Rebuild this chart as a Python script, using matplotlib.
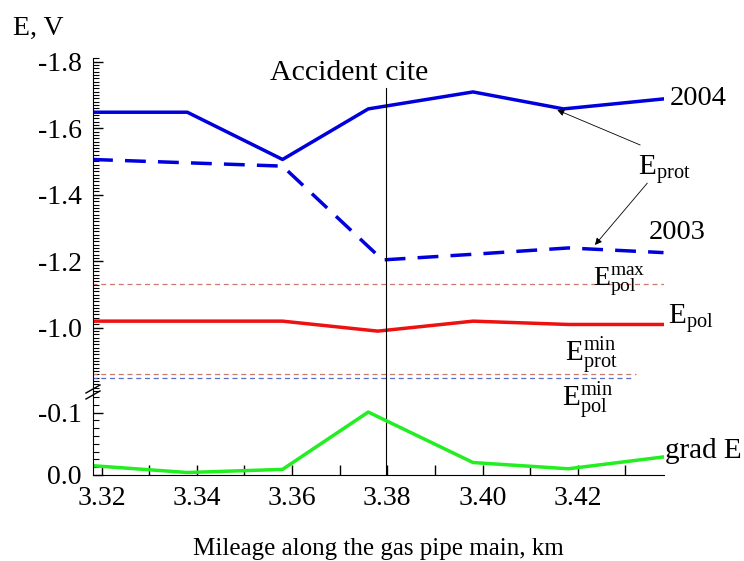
import numpy as np
import matplotlib
matplotlib.use("Agg")
import matplotlib.pyplot as plt
from matplotlib.ticker import MultipleLocator, FormatStrFormatter
from matplotlib.lines import Line2D

plt.rcParams['font.family'] = ['Liberation Serif', 'DejaVu Serif']
plt.rcParams['mathtext.fontset'] = 'custom'
plt.rcParams['mathtext.rm'] = 'Liberation Serif'
plt.rcParams['mathtext.it'] = 'Liberation Serif:italic'
plt.rcParams['axes.unicode_minus'] = False

# data
x_2004 = [3.318, 3.338, 3.358, 3.376, 3.398, 3.417, 3.438]
e_2004 = [-1.648, -1.648, -1.506, -1.658, -1.709, -1.658, -1.688]
x_2003 = [3.318, 3.338, 3.358, 3.379, 3.398, 3.418, 3.438]
e_2003 = [-1.506, -1.496, -1.486, -1.204, -1.221, -1.240, -1.226]
x_pol = [3.318, 3.338, 3.358, 3.378, 3.398, 3.418, 3.438]
e_pol = [-1.02, -1.02, -1.02, -0.99, -1.02, -1.01, -1.01]
x_grad = [3.318, 3.338, 3.358, 3.376, 3.398, 3.418, 3.438]
grad_e = [-0.015, -0.004, -0.009, -0.101, -0.020, -0.010, -0.029]

e_pol_max = -1.133
e_prot_min = -0.860
e_pol_min = -0.848
x_accident = 3.3797

fig = plt.figure(figsize=(7.44, 5.61), dpi=100)
W, H = 744.0, 561.0
left = 93 / W
width = (664 - 93) / W
ax_up = fig.add_axes([left, 1 - 393 / H, width, (393 - 58) / H])
ax_lo = fig.add_axes([left, 1 - 475 / H, width, (475 - 393) / H], sharex=ax_up)
ax_up.patch.set_alpha(0)
ax_lo.patch.set_alpha(0)

blue = '#0000dd'
ax_up.plot(x_2004, e_2004, color=blue, lw=2.5)
ax_up.plot(x_2003, e_2003, color=blue, lw=2.5, dashes=(6, 3.5))
ax_up.plot(x_pol, e_pol, color='#ee1111', lw=2.5)

ax_up.plot([3.318, 3.438], [e_pol_max, e_pol_max], color='#c87a6e', lw=0.9, dashes=(4, 3))
ax_up.plot([3.318, 3.4322], [e_prot_min, e_prot_min], color='#c87a6e', lw=0.9, dashes=(4, 3))
ax_up.plot([3.318, 3.4314], [e_pol_min, e_pol_min], color='#5a6ec8', lw=0.9, dashes=(4, 3))

ax_up.plot([x_accident, x_accident], [-1.72, -0.804], color='black', lw=0.8)
ax_lo.axvline(x_accident, color='black', lw=0.8)

ax_lo.plot(x_grad, grad_e, color='#22ee22', lw=2.5)

ax_up.set_xlim(3.3182, 3.4381)
ax_up.set_ylim(-0.804, -1.811)
ax_lo.set_ylim(0.0, -0.1316)

for s in ['top', 'right', 'bottom']:
    ax_up.spines[s].set_visible(False)
for s in ['top', 'right']:
    ax_lo.spines[s].set_visible(False)

ax_up.yaxis.set_major_locator(MultipleLocator(0.2))
ax_up.yaxis.set_minor_locator(MultipleLocator(0.01))
ax_up.yaxis.set_major_formatter(FormatStrFormatter('%.1f'))
ax_up.tick_params(axis='x', which='both', bottom=False, labelbottom=False)
ax_up.tick_params(axis='y', which='major', direction='in', length=7, width=1, labelsize=20, pad=8)
ax_up.tick_params(axis='y', which='minor', direction='in', length=4, width=0.8)

ax_lo.yaxis.set_major_locator(MultipleLocator(0.1))
ax_lo.yaxis.set_minor_locator(MultipleLocator(0.0125))
ax_lo.yaxis.set_major_formatter(FormatStrFormatter('%.1f'))
ax_lo.tick_params(axis='y', which='major', direction='in', length=7, width=1, labelsize=20, pad=8)
ax_lo.tick_params(axis='y', which='minor', direction='in', length=4, width=0.8)

ax_lo.xaxis.set_major_locator(MultipleLocator(0.02))
ax_lo.xaxis.set_minor_locator(MultipleLocator(0.01))
ax_lo.xaxis.set_major_formatter(FormatStrFormatter('%.2f'))
ax_lo.tick_params(axis='x', which='major', direction='in', length=7, width=1, labelsize=20, pad=8)
ax_lo.tick_params(axis='x', which='minor', direction='in', length=7, width=1)
ax_lo.set_xlabel('Mileage along the gas pipe main, km', fontsize=18, labelpad=19)

# axis break marks
for dy in (0, 6):
    fig.add_artist(Line2D([86 / W, 100 / W], [1 - (393 + dy) / H, 1 - (385 + dy) / H],
                          color='black', lw=1.0, transform=fig.transFigure))

fig.text(13 / W, 1 - 35 / H, 'E, V', fontsize=20, va='baseline')

ax_up.text(3.3553, -1.745, 'Accident cite', fontsize=21.5, va='baseline')
ax_up.text(3.4394, -1.670, '2004', fontsize=20.5, va='baseline')
ax_up.text(3.4327, -1.459, r'$\mathrm{E_{prot}}$', fontsize=21, va='baseline')
ax_up.text(3.4348, -1.267, '2003', fontsize=20.5, va='baseline')
ax_up.text(3.4232, -1.128, r'$\mathrm{E_{pol}^{max}}$', fontsize=20, va='baseline')
ax_up.text(3.4390, -1.011, r'$\mathrm{E_{pol}}$', fontsize=21, va='baseline')
ax_up.text(3.4174, -0.897, r'$\mathrm{E_{prot}^{min}}$', fontsize=21, va='baseline')
ax_up.text(3.4166, -0.762, r'$\mathrm{E_{pol}^{min}}$', fontsize=21, va='baseline', zorder=5)
ax_up.text(3.4383, -0.608, 'grad E', fontsize=21, va='baseline')

arrow = dict(arrowstyle='-|>', color='black', lw=0.6, mutation_scale=10, shrinkA=0, shrinkB=0)
ax_up.annotate('', xy=(3.4157, -1.6545), xytext=(3.4331, -1.5495), arrowprops=arrow)
ax_up.annotate('', xy=(3.4236, -1.249), xytext=(3.4346, -1.435), arrowprops=arrow)

fig.savefig('out.png', dpi=100)
